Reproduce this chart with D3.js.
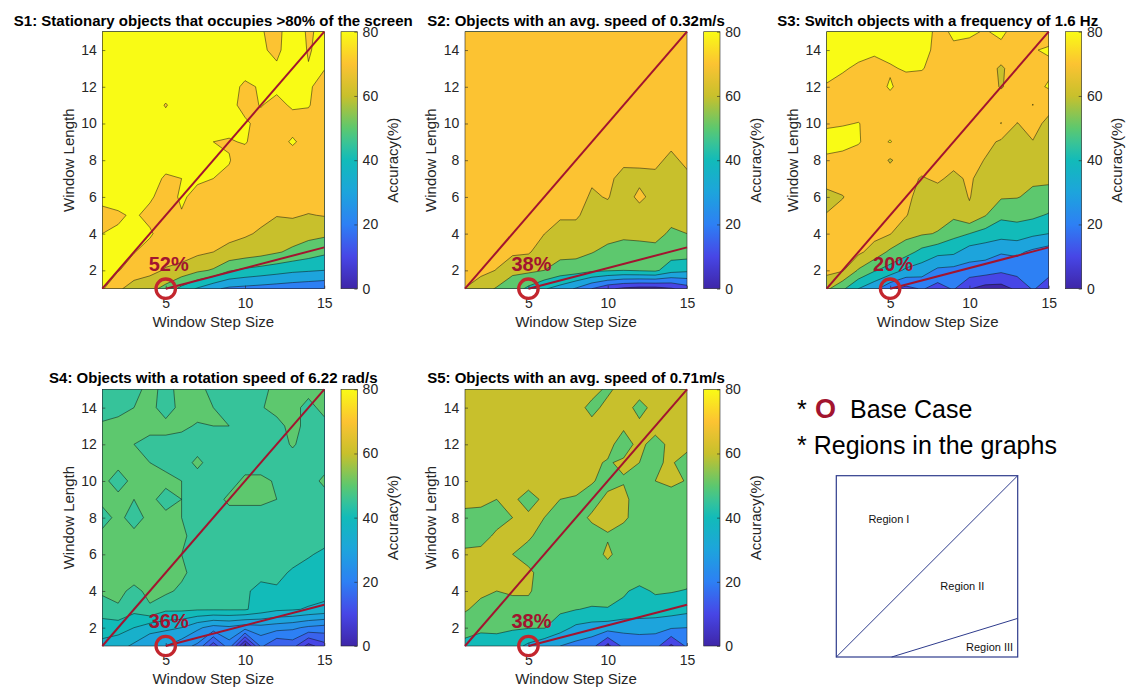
<!DOCTYPE html>
<meta charset="utf-8">
<body style="margin:0;background:#fff">

<!-- Load d3.js -->
<script src="https://d3js.org/d3.v7.min.js"></script>

<div id="my_dataviz"></div>

<script>

// ---- data (rows listed from Window Length 15 at the top down to 1) ----
var titles = [
  "S1: Stationary objects that occupies >80% of the screen",
  "S2: Objects with an avg. speed of 0.32m/s",
  "S3: Switch objects with a frequency of 1.6 Hz",
  "S4: Objects with a rotation speed of 6.22 rad/s",
  "S5: Objects with an avg. speed of 0.71m/s"
];
var baseCase = [52, 38, 20, 36, 38];      // accuracy at the base case (%)
var levelStep = [10, 10, 10, 5, 10];      // contour level spacing per plot

var s1 = [
  [85,85,85,85,85,85,85,84,83,82,80.5,78,84,79,82],
  [85,85,85,85,85,85,84,84,83,82,81,78.5,84,79.5,82],
  [85,85,85,84,84,84,84,83,83,82,82,81,84,80.3,80.3],
  [85,85,85,84,84,84,83,83,82,79,80.5,81.5,81.5,81,77],
  [85,85,85,84,79.5,84,83,82,82,78,80.3,78,81,80.5,76],
  [85,85,85,84,83,83,83,82,82,81,78,77,77,77,76],
  [85,85,84,84,83,82,82,80,79.5,80.5,77,77,81,77,76],
  [85,85,84,84,83,82,82,81,80.3,77,76,76,76,76,75],
  [85,84,84,83,79,80,81,80,79,76,76,76,75,75,75],
  [83,83,82,81,77,81,78,76,75,75,75,75,75,75,74],
  [77,79,81,78,77,79.5,76,75,74,73,72,70.3,71,69.5,70.5],
  [80,81,82,81,76,75,74,73,72,71,69,66,65,63,62],
  [82,82,80.3,77,75,74,72,70,68,66,64,61,58,55,52],
  [82,80.5,76,73,69,67,62,59,51,48,46,44,42,41,40],
  [81,72,65,63,57,47,39,32,28,27,26,25,24,23,22]
];
var s2 = [
  [76,76,76,75,75,75,75,75,75,75,75,75,75,75,75],
  [76,76,75,75,75,75,75,75,75,75,75,75,75,75,75],
  [76,75,75,75,75,75,75,75,75,75,75,75,75,75,75],
  [75,75,75,75,75,75,75,75,75,75,75,75,75,74,74],
  [75,75,75,75,75,75,75,75,75,75,74,74,74,74,74],
  [75,75,75,75,75,75,75,75,75,74,74,74,74,73,73],
  [76,76,75,75,75,75,75,75,74,74,73,73,73,71,72],
  [76,76,75,75,75,75,74,74,73,73,71,71.5,71,69,71],
  [76,75,75,75,75,74,74,74,71,71,68.5,68,69,67,69],
  [76,75,75,75,74,74,73,73,69,70.5,66,72,67,65,66],
  [76,75,75,74,74,73,71,71,67,67,64,66,65,62,63],
  [75,75,74,74,73,70.1,67,67,64,64,62,62,62,59,60],
  [75,74,73,72,71,65,63,63,60.5,57,56,57,58,55,55],
  [74,72.5,69.7,62,62,60,56,55,52,51,50,51,52,44,42],
  [69.8,65,59,55,48,41,36,29,20,12,8,6,6,9,15]
];
var s3 = [
  [85,85,85,84,81,85,84,78,81,81,79.5,81.5,77,77,76],
  [84,84,83,81.5,83,84,82.5,78,79,78,77,78,78,79.5,81],
  [82,81,78.5,77,79,81,80.5,77,77,76,76,68,77,76,78],
  [79.5,77,76,76,81,76,76,76,76,76,76,69,76,77,81],
  [76,76,77,76,76,75,75,75,75,76,76,77,74,80.2,72],
  [78.5,79.5,80.2,78,76,75,75,75,75,75,75,80.2,69.8,72,68.5],
  [84,83,80.5,77,80.5,75,74,74,74,75,73,68.5,67,69.8,66],
  [78,77,77,76,69,75,73,73,72,74,69.5,66,65,65,64],
  [74,75,76,76,75,72,69.5,71,68.5,71,67,64,63,61.5,61],
  [67,69.5,75,75,75,72,67,67,65,70.5,64,61,60.5,58,58],
  [70.5,74,75,75,74,70.5,65,63,62,68,60.5,52,53,52,49],
  [73,75,74,73,70.5,63,61,59.5,53,50,46,44,45,42,40],
  [74,74,72,66,58,54,47,43,42,35,34,31,32,28,25],
  [73,71,59,51,46,38,35,28,27,26,25,22,24,26,23],
  [62,52,40,33,22,17,21,16,21,10.5,6,6,12,21,15]
];
var s4 = [
  [47,47,48,52,48,52,52,48,47,47,48,52,52,52,53],
  [47,48,50,52,47,52,52,50,47,50,49.5,52,52,48,52],
  [51,52,52,52,52,51,49.5,50,50,49,48,48,52,48,48],
  [52,52,50,48,48,48,48,48,48,48,48,48,50.5,48,48],
  [52,52,52,50,48,48,51,48,48,48,48,48,48,48,48],
  [52,47,52,52,52,50,48,48,48,51,51,49.5,48,48,51],
  [52,52,50,52,47,50,48,48,51,51,51,50,48,48,48],
  [47,52,47,52,52,50,48,48,48,48,48,48,48,48,48],
  [52,52,52,52,52,51,48,48,48,48,48,48,48,48,47],
  [52,52,52,52,52,50,48,48,48,48,47,47,46.5,45.5,44],
  [52,52,52,52,52,51,48,48,48,47,46,46,44.5,43,42.5],
  [51,51,49,51,51,49,48,47.5,47,45.5,44,44.5,43,42.5,42],
  [47,49.5,46.5,49.5,46,46,45.5,45.5,45.5,45.5,43,41,40.5,39.5,38.5],
  [43,42,40,37,36,35,31,28,29,27,28,27,26,24,23],
  [38,37,34,31,30,27,24,12,23,3,21,15,17,8,13]
];
var s5 = [
  [65,65,66,66,66,66,65,65,64,58,64,64,65,65,66],
  [66,66,66,66,66,65,65,64,57,63,64,57,63,64,65],
  [66,66,66,66,65,65,64,64,63,63,61,62,63,63,64],
  [66,66,65,65,65,64,64,63,62,62,57,62,57,62,63],
  [65,65,65,65,64,64,63,62,61,59.5,61,60,59,61,56],
  [65,65,64,64,64,63,63,62,61,56,59.5,56,60,62,59.5],
  [64,63,60,62,56,62,60,59.5,55,63,62,56,56,56,56],
  [56,56,56,60,62,60,55,55,62,64,62,55,55,55,58],
  [56,56,62,63,61.5,56,55,55,55,59,55,55,55,55,55],
  [62,63,63,60,56,57,55,55,55,62,55,55,55,55,55],
  [64,64,62,60,62,56,55,55,55,55,55,55,55,54,54],
  [64,62,60,61,61,56,55,55,55,54,51,48,51,50.5,49.5],
  [61,57,57,57,57,55,52,50.3,49,49.5,48,47,46,45,43],
  [54,52,51,51,50.5,50.5,44,38,36,35,33,33,33,31,30],
  [47,45,48,44,38,33,30,27,24,7,23,25,24,8,22]
];

var xTicks = [5, 10, 15];
var yTicks = [2, 4, 6, 8, 10, 12, 14];
var cbTicks = [0, 20, 40, 60, 80];
var regionDiag = [[1, 1], [15, 15]];
var regionLow = [[5, 1], [15, 3.25]];
var baseCasePoint = [5, 1];

// parula-like colormap on the 0..80 accuracy range
var parulaStops = [0, 10, 20, 30, 40, 45, 50, 60, 70, 80];
var parulaColors = ["#3e26a8", "#4746e6", "#2d80f4", "#1da4dc", "#12bbb9",
                    "#36c39a", "#5dc86e", "#c8c02c", "#fcc332", "#f9fb15"];
var color = d3.scaleLinear().domain(parulaStops).range(parulaColors)
  .interpolate(d3.interpolateRgb).clamp(true);

var font = "'Liberation Sans', Arial, Helvetica, sans-serif";
var ink = "#262626";
var red = "#a2142f";

var svg = d3.select("#my_dataviz")
  .append("svg")
    .attr("width", 1126)
    .attr("height", 688)
    .style("font-family", font);

// layout of the five axes
var panels = [
  {data: s1, left: 102.3, top: 31.7, h: 257},
  {data: s2, left: 465,   top: 31.7, h: 257},
  {data: s3, left: 826.7, top: 31.7, h: 257},
  {data: s4, left: 102.3, top: 389.3, h: 256.7},
  {data: s5, left: 465,   top: 389.3, h: 256.7}
];
var plotW = 222;

// colour bar gradient
var defs = svg.append("defs");
var grad = defs.append("linearGradient").attr("id", "parula")
  .attr("x1", 0).attr("y1", 1).attr("x2", 0).attr("y2", 0);
d3.range(0, 81, 2).forEach(function(v) {
  grad.append("stop").attr("offset", v / 80).attr("stop-color", color(v));
});

panels.forEach(function(p, i) {
  var x = d3.scaleLinear().domain([1, 15]).range([p.left, p.left + plotW]);
  var y = d3.scaleLinear().domain([1, 15]).range([p.top + p.h, p.top]);
  var g = svg.append("g");

  defs.append("clipPath").attr("id", "clip" + i)
    .append("rect")
      .attr("x", p.left).attr("y", p.top)
      .attr("width", plotW).attr("height", p.h);

  // filled contours
  var thresholds = d3.range(0, 81, levelStep[i]);
  var contours = d3.contours().size([15, 15]).thresholds(thresholds)(p.data.flat());
  var proj = d3.geoTransform({
    point: function(cx, cy) { this.stream.point(x(cx + 0.5), y(15.5 - cy)); }
  });
  var path = d3.geoPath(proj);
  g.append("g")
    .attr("clip-path", "url(#clip" + i + ")")
    .selectAll("path")
    .data(contours)
    .join("path")
      .attr("d", path)
      .attr("fill", function(d) { return color(d.value); })
      .attr("stroke", "#111")
      .attr("stroke-width", 0.5)
      .attr("stroke-linejoin", "round");

  // axes (MATLAB style inward ticks)
  var xa = g.append("g")
    .attr("transform", "translate(0," + (p.top + p.h) + ")")
    .call(d3.axisBottom(x).tickValues(xTicks).tickSize(-3).tickSizeOuter(0).tickPadding(9.5));
  var ya = g.append("g")
    .attr("transform", "translate(" + p.left + ",0)")
    .call(d3.axisLeft(y).tickValues(yTicks).tickSize(-3).tickSizeOuter(0).tickPadding(5.6));
  [xa, ya].forEach(function(a) {
    a.select(".domain").remove();
    a.selectAll("line").attr("stroke", ink).attr("stroke-width", 0.6);
    a.selectAll("text").attr("fill", ink).style("font-size", "14px").style("font-family", font);
  });

  g.append("rect")
    .attr("x", p.left).attr("y", p.top)
    .attr("width", plotW).attr("height", p.h)
    .attr("fill", "none").attr("stroke", ink).attr("stroke-width", 0.6);

  // region lines
  var line = d3.line().x(function(d) { return x(d[0]); }).y(function(d) { return y(d[1]); });
  [regionDiag, regionLow].forEach(function(seg) {
    g.append("path").attr("d", line(seg))
      .attr("fill", "none").attr("stroke", red).attr("stroke-width", 2);
  });

  // base case marker and its accuracy
  g.append("circle")
    .attr("cx", x(baseCasePoint[0])).attr("cy", y(baseCasePoint[1]))
    .attr("r", 9.7)
    .attr("fill", "none").attr("stroke", "#c3262e").attr("stroke-width", 3.3);
  g.append("text")
    .attr("x", x(baseCasePoint[0]) + 3)
    .attr("y", y(baseCasePoint[1]) - 18)
    .attr("text-anchor", "middle")
    .attr("fill", red)
    .style("font-size", "20px").style("font-weight", "bold")
    .text(baseCase[i] + "%");

  // titles and labels
  g.append("text")
    .attr("x", p.left + plotW / 2).attr("y", p.top - 6.2)
    .attr("text-anchor", "middle")
    .style("font-size", "15px").style("font-weight", "bold")
    .attr("fill", "#000")
    .text(titles[i]);
  g.append("text")
    .attr("x", p.left + plotW / 2).attr("y", p.top + p.h + 38.3)
    .attr("text-anchor", "middle")
    .style("font-size", "15px").attr("fill", ink)
    .text("Window Step Size");
  g.append("text")
    .attr("transform", "translate(" + (p.left - 34) + "," + (p.top + p.h / 2) + ")rotate(-90)")
    .attr("dy", "0.35em")
    .attr("text-anchor", "middle")
    .style("font-size", "15px").attr("fill", ink)
    .text("Window Length");

  // colour bar
  var cbx = p.left + 238.7, cbw = 16.3;
  var yc = d3.scaleLinear().domain([0, 80]).range([p.top + p.h, p.top]);
  g.append("rect")
    .attr("x", cbx).attr("y", p.top)
    .attr("width", cbw).attr("height", p.h)
    .attr("fill", "url(#parula)")
    .attr("stroke", ink).attr("stroke-width", 0.6);
  var ca = g.append("g")
    .attr("transform", "translate(" + (cbx + cbw) + ",0)")
    .call(d3.axisRight(yc).tickValues(cbTicks).tickSize(-3).tickSizeOuter(0).tickPadding(5.3));
  ca.select(".domain").remove();
  ca.selectAll("line").attr("stroke", ink).attr("stroke-width", 0.6);
  ca.selectAll("text").attr("fill", ink).style("font-size", "14px").style("font-family", font);
  g.append("text")
    .attr("transform", "translate(" + (p.left + 290.4) + "," + (p.top + p.h / 2) + ")rotate(-90)")
    .attr("dy", "0.35em")
    .attr("text-anchor", "middle")
    .style("font-size", "15px").attr("fill", ink)
    .text("Accuracy(%)");
});

// legend on the right
var leg = svg.append("g").style("font-size", "25px");
leg.append("text").attr("x", 797).attr("y", 418).text("*");
leg.append("text").attr("x", 815).attr("y", 418)
  .attr("fill", red).style("font-weight", "bold").style("font-size", "27px").text("O");
leg.append("text").attr("x", 850).attr("y", 418).text("Base Case");
leg.append("text").attr("x", 797).attr("y", 454).text("* Regions in the graphs");

var bx = d3.scaleLinear().domain([0, 1]).range([836.3, 1017.7]);
var by = d3.scaleLinear().domain([0, 1]).range([657, 475.7]);
var navy = "#2e3b8c";
svg.append("rect")
  .attr("x", bx(0)).attr("y", by(1))
  .attr("width", bx(1) - bx(0)).attr("height", by(0) - by(1))
  .attr("fill", "none").attr("stroke", navy).attr("stroke-width", 1.2);
svg.append("line")
  .attr("x1", bx(0)).attr("y1", by(0)).attr("x2", bx(1)).attr("y2", by(1))
  .attr("stroke", navy).attr("stroke-width", 1);
svg.append("line")
  .attr("x1", bx(0.305)).attr("y1", by(0)).attr("x2", bx(1)).attr("y2", by(0.213))
  .attr("stroke", navy).attr("stroke-width", 1);
[["Region I", 0.29, 0.76], ["Region II", 0.695, 0.39], ["Region III", 0.845, 0.053]].forEach(function(r) {
  svg.append("text")
    .attr("x", bx(r[1])).attr("y", by(r[2]))
    .attr("dy", "0.35em")
    .attr("text-anchor", "middle")
    .style("font-size", "11px").attr("fill", "#111")
    .text(r[0]);
});

</script>

</body>
